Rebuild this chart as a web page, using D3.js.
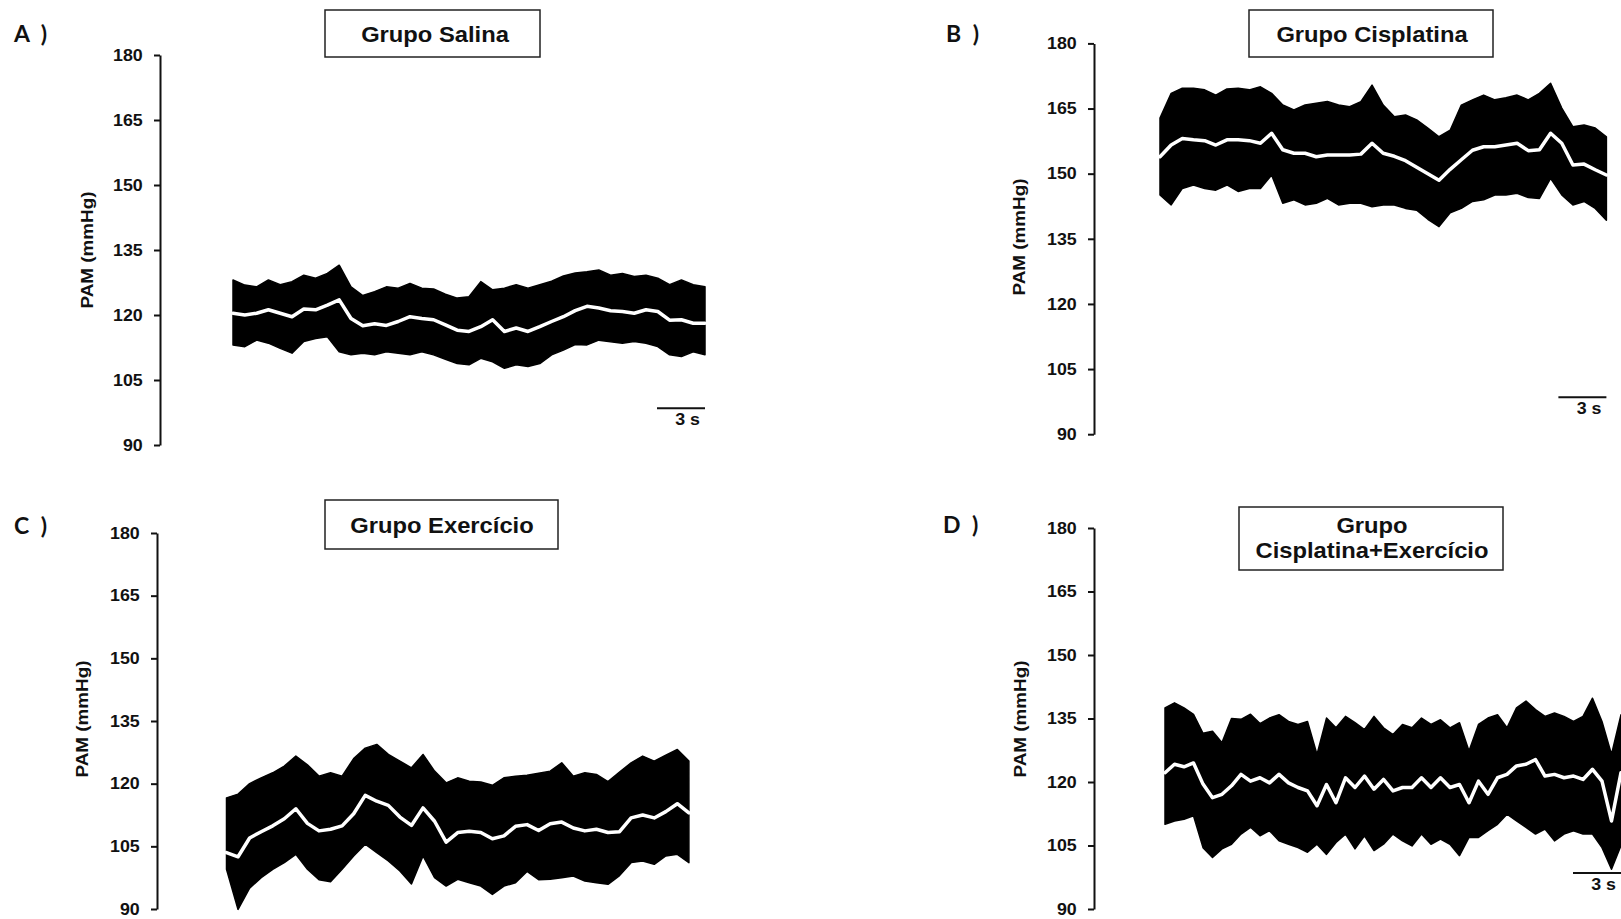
<!DOCTYPE html>
<html>
<head>
<meta charset="utf-8">
<script src="https://cdn.jsdelivr.net/npm/d3@7"></script>
<style>
  html, body { margin: 0; padding: 0; background: #ffffff; }
  svg { display: block; }
  .tick text { font-family: "Liberation Sans", Arial, sans-serif; font-weight: bold; font-size: 16.5px; fill: #111; }
  .ylab { font-family: "Liberation Sans", Arial, sans-serif; font-weight: bold; font-size: 16px; fill: #111; }
  .title { font-family: "Liberation Sans", Arial, sans-serif; font-weight: bold; font-size: 22px; fill: #111; }
  .letter { font-family: Lato, "Open Sans", sans-serif; font-weight: bold; font-size: 23px; fill: #111; }
  .scale { font-family: "Liberation Sans", Arial, sans-serif; font-weight: bold; font-size: 16.5px; fill: #111; }
</style>
</head>
<body>
<svg id="fig" width="1621" height="919"></svg>
<script>
// Mean arterial pressure (PAM, mmHg) recordings, four experimental groups.
// Each trace: upper and lower envelope of the pulsatile signal plus the mean (white) line,
// sampled evenly over the recording duration (seconds).

const yTickValues = [90, 105, 120, 135, 150, 165, 180];
const yDomain = [90, 180];
const yLabel = "PAM (mmHg)";
const scaleBarSeconds = 3;
const scaleBarLevel = 98.5;   // mmHg level where the time scale bar sits
const scaleBarLabel = "3 s";

// A) Grupo Salina
const titleA = ["Grupo Salina"];
const durationA = 29.5;
const upperA = [128.1,126.9,126.5,128.1,127,127.7,129.2,128.5,129.6,131.5,126.5,124.5,125.4,126.5,126.2,127.3,126.2,126,124.8,123.9,124.2,127.7,125.8,126.2,127,126.2,127,127.8,129,129.7,130,130.4,129.2,129.6,128.9,129.2,128.5,127,128.1,127,126.5];
const lowerA = [113.1,112.7,114.2,113.5,112.3,111.2,113.9,114.6,115.0,111.5,110.8,111.2,110.8,111.5,111.2,110.8,111.5,110.8,109.8,108.8,108.5,110,109.2,107.7,108.5,108.1,108.8,110.8,111.9,113.2,113.1,114.2,113.8,113.5,113.9,113.5,112.7,110.8,110.4,111.5,110.8];
const meanA  = [120.4,120,120.4,121.2,120.4,119.6,121.4,121.2,122.3,123.5,119.2,117.5,118,117.6,118.5,119.6,119.2,118.9,117.7,116.5,116.2,117.3,118.9,116.2,117,116.2,117.3,118.5,119.6,121,122,121.6,121,120.8,120.4,121.2,120.8,118.8,118.9,118.1,118.1];

// B) Grupo Cisplatina
const titleB = ["Grupo Cisplatina"];
const durationB = 27.9;
const upperB = [162.8,168.5,169.7,169.7,169.3,168.1,169.5,169.7,169.3,170,168.5,165.8,164.7,165.8,166.2,166.6,165.8,165.4,166.6,170.4,165.8,163.1,163.5,162.4,160.5,158.5,160,165.8,167,168.1,167,167.5,168.1,167,168.5,170.8,165.1,160.8,161.2,160.5,158.5];
const lowerB = [145.1,142.8,146.6,147.4,146.6,146.2,147.4,145.9,146.6,146.6,149.7,143.2,144,142.8,143.2,144.3,142.8,143.2,143.2,142.4,142.8,142.8,142,141.6,139.5,137.8,141,142,143.6,144,145.1,145.1,145.5,144.5,144.3,148.9,145.1,142.8,143.6,142,139.3];
const meanB  = [153.9,156.6,158.1,157.8,157.6,156.6,157.8,157.8,157.6,157,159.3,155.5,154.7,154.7,153.9,154.3,154.3,154.3,154.5,157,154.7,154,153,151.5,150,148.5,151,153.2,155.4,156.2,156.2,156.6,157,155.3,155.5,159.3,157,152,152.2,150.9,149.7];

// C) Grupo Exercício
const titleC = ["Grupo Exercício"];
const durationC = 28.9;
const upperC = [116.6,117.5,120,121.4,122.6,124.2,126.6,124.5,121.8,122.6,121.8,126,128.5,129.4,127,125.4,123.8,127,123,120.2,121.4,120.6,120.4,119.6,121.4,121.8,122,122.5,123,125,121.8,122.6,122.2,120.5,122.8,125,126.6,125.4,126.8,128.2,125.4];
const lowerC = [99.5,89.9,95,97.5,99.5,101.1,103.1,99.5,97,96.5,99.5,102.7,105.5,103.5,101.5,99.1,96,102.7,97.5,95.5,97.1,96.3,95.5,93.5,95.5,96.3,99,97,97.1,97.5,97.9,96.7,96.3,95.9,98,101.1,101.5,100.7,102.7,103.1,101.1];
const meanC  = [103.5,102.5,107,108.5,109.9,111.6,114,110.5,108.7,109.1,109.9,112.8,117.2,115.8,114.8,112,110,114.2,111,106,108.3,108.6,108.3,106.8,107.5,109.8,110.2,108.8,110.4,110.8,109.4,108.7,109.1,108.3,108.5,111.8,112.5,111.8,113.3,115.2,113];

// D) Grupo Cisplatina+Exercício
const titleD = ["Grupo", "Cisplatina+Exercício"];
const durationD = 28.5;
const upperD = [137.5,138.7,137.5,136,131.5,132,129.3,135,134.8,136,133.8,135.1,135.9,134.3,133.6,134.3,126.5,135.1,132.8,135.5,134,132.4,135.5,132.8,131.2,133.6,132.8,135.1,133.6,134.7,132.8,134,127.3,133.6,135.1,135.9,132.8,137.5,139.1,137.1,135.5,136.3,135.5,134.3,135.5,139.8,134.3,126.5,135.9];
const lowerD = [110,110.8,111.2,112,104.5,102.2,104.2,105.3,107.7,109.3,107.3,108.5,106.1,105.3,104.5,103.4,105.3,102.9,105.7,107.7,104.2,107.3,103.8,105.3,107.7,106.1,104.9,107.7,105.3,106.5,105.3,102.6,106.9,106.9,108.5,110,112.4,110.8,109.3,107.7,108.9,106.1,107.7,108.5,107.7,107.7,104.5,99.4,105];
const meanD  = [122.2,124.2,123.6,124.5,119.5,116.3,117.1,119.1,121.8,120.2,121,119.8,121.8,119.8,118.7,117.9,114.4,119.4,115.1,121,118.7,121.4,118.3,120.6,117.9,118.7,118.7,121,118.7,121,118.7,119.4,115.1,120.2,117.1,121,121.8,123.8,124.2,125.3,121.4,121.8,121,121.4,120.6,123,120.2,110.8,122.2];

// ---- layout of the four panels (pixels) ----
const pxPerSecond = 16;
const textStretch = 1.08;   // lettering in this figure is slightly wide
const panels = [
  { letter: "A )", letterX: 14, letterY: 42, axisX: 160, yTop: 55, yBot: 445, traceX: 233, labelX: 87, labelY: 250,
    box: [325, 10, 540, 57], titleX: 435, titleY: 42, title: titleA, duration: durationA,
    upper: upperA, lower: lowerA, mean: meanA, scaleBar: true },
  { letter: "B )", letterX: 946, letterY: 42, axisX: 1094, yTop: 43.4, yBot: 434.2, traceX: 1160, labelX: 1019, labelY: 237,
    box: [1249, 10, 1493, 57], titleX: 1372, titleY: 42, title: titleB, duration: durationB,
    upper: upperB, lower: lowerB, mean: meanB, scaleBar: true },
  { letter: "C )", letterX: 14, letterY: 534, axisX: 157, yTop: 533, yBot: 909, traceX: 226.5, labelX: 82, labelY: 719,
    box: [325, 500, 558, 549], titleX: 442, titleY: 533, title: titleC, duration: durationC,
    upper: upperC, lower: lowerC, mean: meanC, scaleBar: false },
  { letter: "D )", letterX: 943, letterY: 533, axisX: 1094, yTop: 528, yBot: 909, traceX: 1165, labelX: 1020, labelY: 719,
    box: [1239, 507, 1503, 570], titleX: 1372, titleY: 533, title: titleD, duration: durationD,
    upper: upperD, lower: lowerD, mean: meanD, scaleBar: true }
];

const svg = d3.select("#fig");

panels.forEach(p => {
  const g = svg.append("g");
  const y = d3.scaleLinear().domain(yDomain).range([p.yBot, p.yTop]);
  const x = d3.scaleLinear().domain([0, p.duration]).range([p.traceX, p.traceX + p.duration * pxPerSecond]);

  // time of i-th sample of a series spread evenly across the recording
  const toPoints = arr => arr.map((v, i) => [i / (arr.length - 1) * p.duration, v]);

  // pulsatile signal: filled band between upper and lower envelopes
  const upperPts = toPoints(p.upper);
  const lowerPts = toPoints(p.lower).reverse();
  const edge = d3.line().x(d => x(d[0])).y(d => y(d[1])).curve(d3.curveLinear);
  const band = edge(upperPts) + "L" + edge(lowerPts).slice(1) + "Z";
  g.append("path").attr("d", band).attr("fill", "#000")
    .attr("stroke", "#000").attr("stroke-width", 1.5).attr("stroke-linejoin", "round");

  // mean pressure line
  const meanLine = d3.line().x(d => x(d[0])).y(d => y(d[1])).curve(d3.curveLinear);
  g.append("path").attr("d", meanLine(toPoints(p.mean)))
    .attr("fill", "none").attr("stroke", "#fff").attr("stroke-width", 3.5)
    .attr("stroke-linejoin", "round").attr("stroke-linecap", "round");

  // y axis
  const axis = d3.axisLeft(y).tickValues(yTickValues).tickSize(6).tickSizeOuter(0).tickPadding(10);
  const ag = g.append("g").attr("transform", `translate(${p.axisX},0)`).call(axis);
  ag.select(".domain").attr("stroke", "#111").attr("stroke-width", 2);
  ag.selectAll(".tick line").attr("stroke", "#111").attr("stroke-width", 2);
  ag.selectAll(".tick text").attr("transform", `scale(${textStretch},1)`);

  // y axis label
  g.append("text").attr("class", "ylab")
    .attr("transform", `translate(${p.labelX},${p.labelY}) rotate(-90)`)
    .attr("text-anchor", "middle").attr("dy", "0.35em")
    .attr("textLength", 117).attr("lengthAdjust", "spacingAndGlyphs")
    .text(yLabel);

  // panel letter
  g.append("text").attr("class", "letter")
    .attr("x", p.letterX).attr("y", p.letterY)
    .style("word-spacing", "6px").text(p.letter);

  // group title box
  const [bx0, by0, bx1, by1] = p.box;
  g.append("rect").attr("x", bx0).attr("y", by0).attr("width", bx1 - bx0).attr("height", by1 - by0)
    .attr("fill", "#fff").attr("stroke", "#222").attr("stroke-width", 1.5);
  p.title.forEach((line, i) => {
    g.append("text").attr("class", "title")
      .attr("transform", `translate(${p.titleX},${p.titleY + i * 25}) scale(${textStretch},1)`)
      .attr("text-anchor", "middle").text(line);
  });

  // time scale bar
  if (p.scaleBar) {
    const x0 = x(p.duration - scaleBarSeconds), x1 = x(p.duration), yb = y(scaleBarLevel);
    g.append("line").attr("x1", x0).attr("x2", x1).attr("y1", yb).attr("y2", yb)
      .attr("stroke", "#111").attr("stroke-width", 2);
    g.append("text").attr("class", "scale")
      .attr("transform", `translate(${x1 - 5},${yb + 17}) scale(${textStretch},1)`)
      .attr("text-anchor", "end").text(scaleBarLabel);
  }
});
</script>
</body>
</html>
